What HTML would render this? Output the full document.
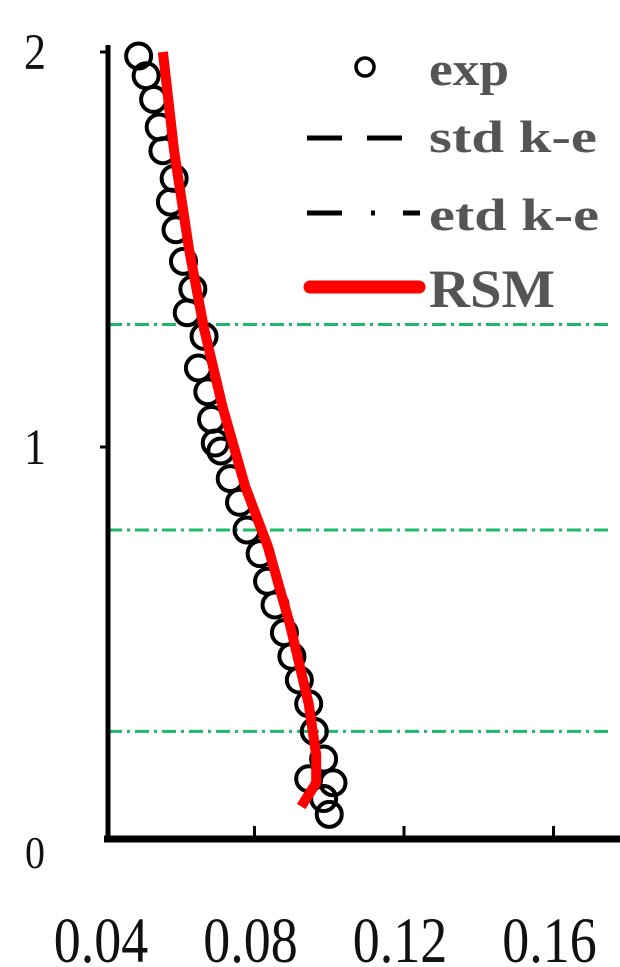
<!DOCTYPE html>
<html><head><meta charset="utf-8"><style>
html,body{margin:0;padding:0;background:#fff;}
svg{display:block;}
</style></head><body>
<svg id="chart" width="620" height="967" viewBox="0 0 620 967" xmlns="http://www.w3.org/2000/svg"></svg>
<script>
const xTicks=[0.04,0.08,0.12,0.16];
const xTickLabels=["0.04","0.08","0.12","0.16"];
const yTicks=[0,1,2];
const yTickLabels=["0","1","2"];
const refLines=[1.31,0.79,0.28];
const expX=[0.049,0.051,0.053,0.0545,0.0555,0.0585,0.0575,0.059,0.061,0.0635,0.062,0.0665,0.065,0.0675,0.0685,0.0695,0.071,0.0735,0.076,0.078,0.0815,0.0835,0.0855,0.088,0.090,0.092,0.0945,0.0960,0.0985,0.101,0.0985,0.100,0.0945];
const expY=[1.99,1.94,1.88,1.81,1.75,1.68,1.62,1.55,1.47,1.40,1.34,1.28,1.20,1.14,1.07,1.01,0.99,0.92,0.86,0.79,0.73,0.66,0.60,0.53,0.47,0.41,0.35,0.28,0.21,0.15,0.11,0.07,0.16];
const rsmX=[0.0555,0.0585,0.0625,0.0665,0.0715,0.0775,0.0835,0.0895,0.0945,0.0965,0.0965,0.0925];
const rsmY=[2.0,1.75,1.5,1.3,1.1,0.9,0.75,0.55,0.35,0.22,0.15,0.09];

const svg=document.getElementById('chart');
const NS='http://www.w3.org/2000/svg';
const X0=105,XS=149.5/0.04,Y0=842,YS=395;
function sx(v){return X0+(v-0.04)*XS;}
function sy(v){return Y0-v*YS;}
function mk(tag,attrs,parent){const e=document.createElementNS(NS,tag);for(const k in attrs)e.setAttribute(k,attrs[k]);(parent||svg).appendChild(e);return e;}

refLines.forEach((v,i)=>{
  const l=mk('line',{x1:108,x2:612,y1:sy(v),y2:sy(v),stroke:'#1db86a','stroke-width':3,'stroke-dasharray':'14 5 3 5'});
  
  
});

const ya=mk('line',{x1:108,x2:108,y1:45,y2:842,stroke:'#000','stroke-width':5});


const xa=mk('line',{x1:104,x2:620,y1:839,y2:839,stroke:'#000','stroke-width':7});



xTicks.forEach((v,i)=>{
  if(i>0){
    const t=mk('line',{x1:sx(v),x2:sx(v),y1:826,y2:839,stroke:'#000','stroke-width':3});
    
    
  }
  const g=mk('g',{transform:'translate('+(sx(v)-4)+',962) scale(1,1.2)'});
  const tx=mk('text',{x:0,y:0,'text-anchor':'middle','font-family':'Liberation Serif, serif','font-size':54,fill:'#111'},g);
  tx.textContent=xTickLabels[i];
  
  
});
yTicks.forEach((v,i)=>{
  if(v>0){
    const t=mk('line',{x1:100,x2:108,y1:sy(v),y2:sy(v),stroke:'#000','stroke-width':3});
    
    
  }
  const g=mk('g',{transform:'translate(35,'+(sy(v)+(v===0?26:17))+') scale(1,1.15)'});
  const tx=mk('text',{x:0,y:0,'text-anchor':'middle','font-family':'Liberation Serif, serif','font-size':v===0?40:44,fill:'#111'},g);
  tx.textContent=yTickLabels[i];
  
  
});

expX.forEach((v,i)=>{
  const c=mk('circle',{cx:sx(v),cy:sy(expY[i]),r:12.5,fill:'none',stroke:'#000','stroke-width':4});
  
  
});
let d='';
rsmX.forEach((v,i)=>{d+=(i?'L':'M')+sx(v).toFixed(1)+' '+sy(rsmY[i]).toFixed(1);});
const rl=mk('path',{d:d,fill:'none',stroke:'#ff0000','stroke-width':10,'stroke-linejoin':'round'});



const lg=mk('g',{});


const tf={'font-family':'Liberation Serif, serif','font-weight':'bold',fill:'#555'};
mk('circle',{cx:365,cy:67,r:9,fill:'none',stroke:'#000','stroke-width':3.5},lg);
mk('line',{x1:307,x2:342,y1:138,y2:138,stroke:'#000','stroke-width':5},lg);
mk('line',{x1:367,x2:402,y1:138,y2:138,stroke:'#000','stroke-width':5},lg);
mk('line',{x1:307,x2:342,y1:213,y2:213,stroke:'#000','stroke-width':5},lg);
mk('line',{x1:371,x2:375,y1:213,y2:213,stroke:'#000','stroke-width':5},lg);
mk('line',{x1:403,x2:420,y1:213,y2:213,stroke:'#000','stroke-width':5},lg);
mk('line',{x1:310,x2:419,y1:287,y2:287,stroke:'#ff0000','stroke-width':13,'stroke-linecap':'round'},lg);
[['exp',85,80,48],['std k-e',152,168,46],['etd k-e',230,170,46],['RSM',307,126,54]].forEach(a=>{
  const t=mk('text',Object.assign({x:429,y:a[1],textLength:a[2],lengthAdjust:'spacingAndGlyphs','font-size':a[3]},tf),lg);
  t.textContent=a[0];
  
  
});
</script>
</body></html>
